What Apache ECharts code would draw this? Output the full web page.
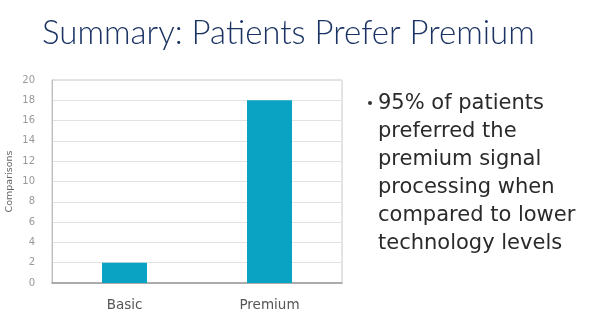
<!DOCTYPE html>
<html>
<head>
<meta charset="utf-8">
<script src="https://cdn.jsdelivr.net/npm/echarts@6/dist/echarts.min.js"></script>
<style>html,body{margin:0;padding:0;background:#fff;}#c{width:590px;height:332px;}</style>
</head>
<body>
<div id="c"></div>
<script>
const categories = ['Basic', 'Premium'];
const comparisons = [2, 18];
const yTicks = [0, 2, 4, 6, 8, 10, 12, 14, 16, 18, 20];
const titleText = 'Summary: Patients Prefer Premium';
const bulletLines = ['95% of patients', 'preferred the', 'premium signal', 'processing when', 'compared to lower', 'technology levels'];

const chart = echarts.init(document.getElementById('c'));
chart.setOption({
  backgroundColor: '#ffffff',
  animation: false,
  title: {
    text: titleText,
    left: 37, top: 12,
    textStyle: { fontFamily: 'Lato', fontWeight: 300, fontSize: 33, color: '#1b3363' }
  },
  grid: { left: 52, right: 248, top: 80, bottom: 49, show: true, borderColor: '#c8c8c8', borderWidth: 1 },
  xAxis: {
    type: 'category', data: categories,
    axisLine: { lineStyle: { color: '#9a9a9a', width: 1.5 } },
    axisTick: { show: false },
    axisLabel: { margin: 15, fontFamily: 'DejaVu Sans', fontSize: 13.5, color: '#555' }
  },
  yAxis: {
    type: 'value', min: yTicks[0], max: yTicks[yTicks.length - 1], interval: 2,
    name: 'Comparisons', nameLocation: 'middle', nameGap: 37, nameRotate: 90,
    nameTextStyle: { fontFamily: 'DejaVu Sans', fontSize: 9.5, color: '#666' },
    axisLine: { show: true, lineStyle: { color: '#bdbdbd' } },
    axisTick: { show: false },
    axisLabel: { margin: 17, fontFamily: 'DejaVu Sans', fontSize: 10, color: '#999' },
    splitLine: { lineStyle: { color: '#e2e2e2' } }
  },
  series: [{
    type: 'bar', data: comparisons, barWidth: 45,
    itemStyle: { color: '#0aa3c3' }
  }],
  graphic: [
    { type: 'circle', shape: { cx: 370, cy: 103, r: 2 }, style: { fill: '#333' } },
    { type: 'text', left: 378, top: 90,
      style: { text: bulletLines.join('\n'), font: '400 21px "DejaVu Sans"', fill: '#2a2a2a', lineHeight: 28 } }
  ]
});
</script>
</body>
</html>
